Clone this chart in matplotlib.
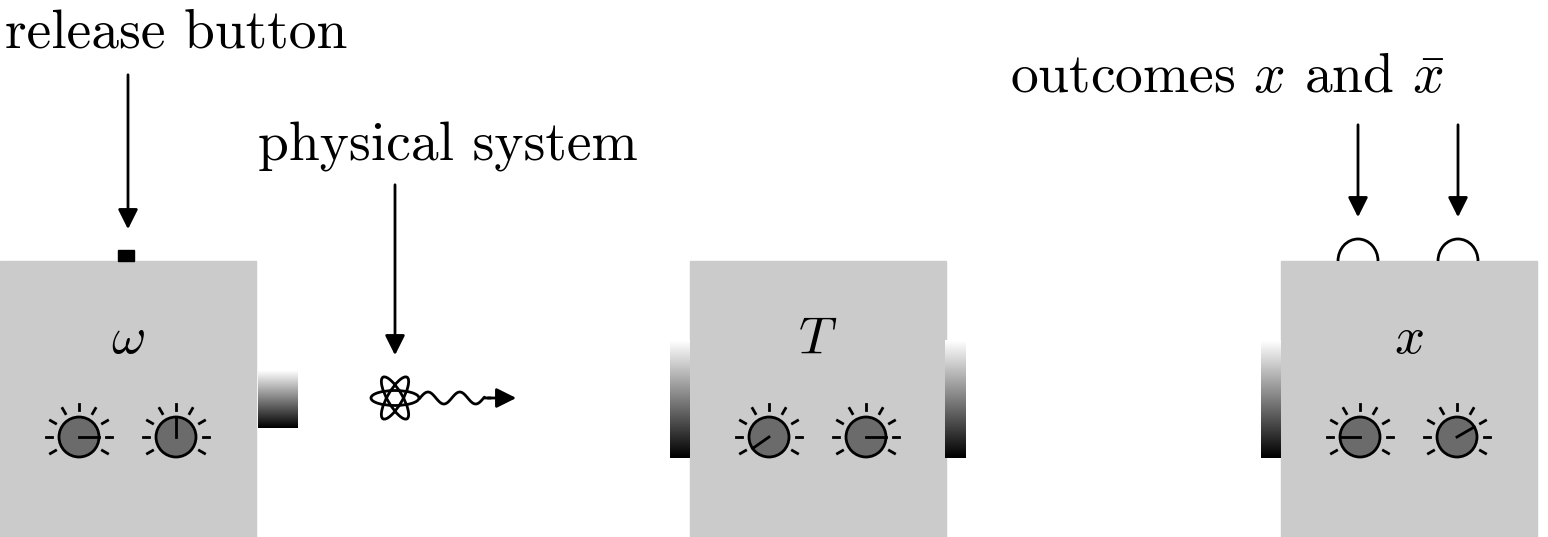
import numpy as np
import matplotlib.pyplot as plt
from matplotlib.patches import Rectangle, Circle, Ellipse, Arc, FancyArrowPatch

plt.rcParams['font.family'] = 'serif'
plt.rcParams['font.serif'] = ['cmr10']
plt.rcParams['mathtext.fontset'] = 'cm'

# box layout (pixel coords, y down)
box_x = [0, 690, 1281]
box_labels = [r'$\omega$', r'$T$', r'$x$']
knob_angles = [[0, 90], [215, 0], [180, 30]]
knob_dx = [79, 176]
labels = ["release button", "physical system", r"outcomes $x$ and $\bar{x}$"]

fig = plt.figure(figsize=(15.48, 5.37), dpi=100)
ax = fig.add_axes([0, 0, 1, 1])
ax.set_xlim(0, 1548)
ax.set_ylim(537, 0)
ax.axis('off')

grad = np.linspace(1, 0, 100).reshape(-1, 1)

def gradient(x0, x1, y0, y1):
    ax.imshow(grad, cmap='gray', extent=[x0, x1, y1, y0], aspect='auto', vmin=0, vmax=1, zorder=2)

def arrow(x0, y0, x1, y1):
    ax.add_patch(FancyArrowPatch((x0, y0), (x1, y1), arrowstyle='-|>,head_length=12,head_width=6',
                                 lw=2, color='black', zorder=5))

for i, bx in enumerate(box_x):
    ax.add_patch(Rectangle((bx, 261), 256, 276, color='#cbcbcb', zorder=1))
    ax.text(bx + 128, 340, box_labels[i], fontsize=38, ha='center', va='center', zorder=3)
    for k, dx in enumerate(knob_dx):
        cx, cy = bx + dx, 437
        ax.add_patch(Circle((cx, cy), 20, facecolor='#6b6b6b', edgecolor='black', lw=2, zorder=3))
        for a in [0, 30, 60, 90, 120, 150, 180, 210, 330]:
            r = np.deg2rad(a)
            ax.plot([cx + 27 * np.cos(r), cx + 33 * np.cos(r)], [cy - 27 * np.sin(r), cy - 33 * np.sin(r)],
                    color='black', lw=2, zorder=3)
        r = np.deg2rad(knob_angles[i][k])
        ax.plot([cx, cx + 20 * np.cos(r)], [cy, cy - 20 * np.sin(r)], color='black', lw=2, zorder=4)

# ports
ax.add_patch(Rectangle((118, 250), 16, 11, color='black', zorder=2))
gradient(258, 298, 370, 428)
gradient(670, 690, 340, 458)
gradient(945, 966, 340, 458)
gradient(1261, 1281, 340, 458)
for cx in [1358, 1458]:
    ax.add_patch(Arc((cx, 261), 40, 44, theta1=180, theta2=360, lw=2, color='black', zorder=2))

# atom + wave
for a in [0, 60, 120]:
    ax.add_patch(Ellipse((395, 398), 48, 15, angle=a, fill=False, lw=2, ec='black', zorder=4))
wx = np.linspace(420, 490, 100)
ax.plot(wx, 398 - 6 * np.sin((wx - 420) / 70 * 2 * np.pi * 2.2) * (wx < 485), color='black', lw=2)
arrow(485, 398, 519, 398)

# labels + arrows
ax.text(5, 48, labels[0], fontsize=40, ha='left', va='baseline')
arrow(128, 72, 128, 232)
ax.text(258, 160, labels[1], fontsize=40, ha='left', va='baseline')
arrow(395, 182, 395, 358)
ax.text(1010, 92, labels[2], fontsize=40, ha='left', va='baseline')
arrow(1358, 122, 1358, 220)
arrow(1458, 122, 1458, 220)

fig.savefig("out.png", dpi=100)
